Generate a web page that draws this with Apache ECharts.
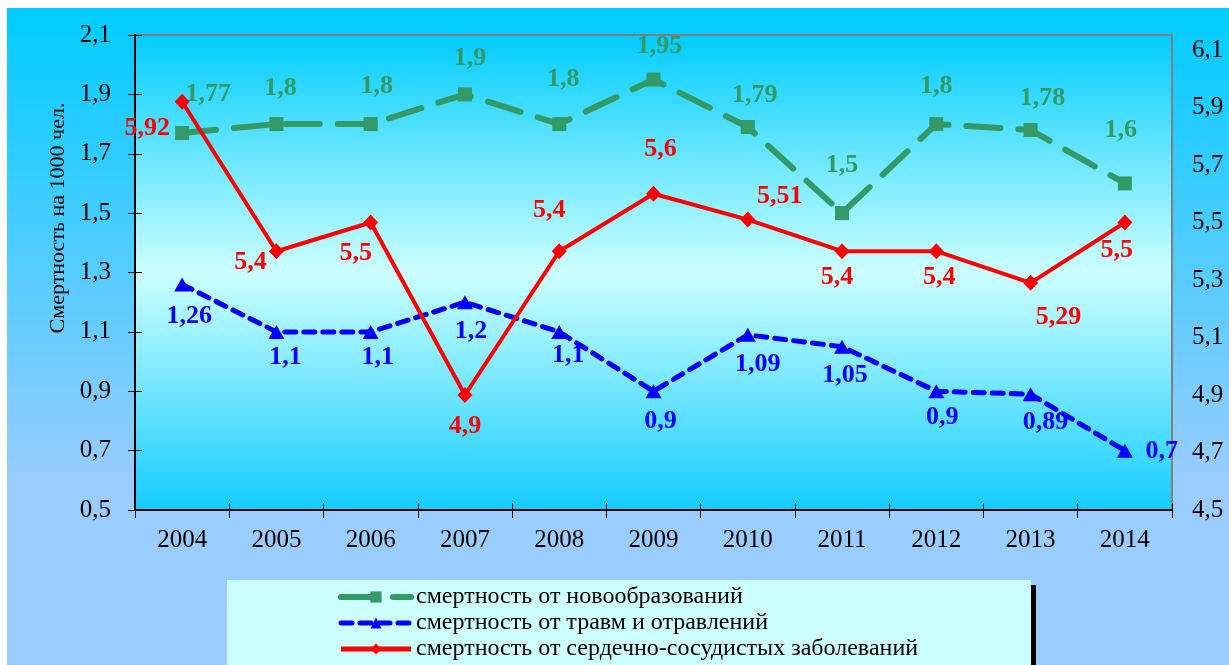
<!DOCTYPE html>
<html>
<head>
<meta charset="utf-8">
<script src="https://cdn.jsdelivr.net/npm/echarts@6/dist/echarts.min.js"></script>
<style>
    html, body { margin: 0; padding: 0; background: #ffffff; }
    #bg { position: absolute; left: 7px; top: 8px; width: 1222px; height: 657px;
          background: linear-gradient(to bottom, #00ccff 0%, #99ccff 72%, #99ccff 100%); }
    #main { position: absolute; left: 0; top: 0; width: 1229px; height: 665px; }
</style>
</head>
<body>
<div id="bg"></div>
<div id="main"></div>
<script>
// данные
const years = ['2004', '2005', '2006', '2007', '2008', '2009', '2010', '2011', '2012', '2013', '2014'];
const neoplasms = [1.77, 1.8, 1.8, 1.9, 1.8, 1.95, 1.79, 1.5, 1.8, 1.78, 1.6];
const injuries = [1.26, 1.1, 1.1, 1.2, 1.1, 0.9, 1.09, 1.05, 0.9, 0.89, 0.7];
const cardio = [5.92, 5.4, 5.5, 4.9, 5.4, 5.6, 5.51, 5.4, 5.4, 5.29, 5.5];
const seriesNames = [
    'смертность от новообразований',
    'смертность от травм и отравлений',
    'смертность от сердечно-сосудистых заболеваний'
];
const yName = 'Смертность на 1000 чел.';

// смещения подписей относительно точек
const greenOff = [[26,-39],[4,-36],[6,-38],[5,-36],[4,-45],[6,-33],[7,-32],[0,-48],[0,-38],[12,-32],[-4,-53]];
const blueOff = [[7,32],[9,25],[7,25],[6,29],[9,23],[7,30],[10,29],[3,29],[6,26],[15,28],[37,1]];
const redOff = [[-35,27],[-26,11],[-15,31],[0,31],[-10,-41],[7,-44],[32,-23],[-5,26],[3,26],[28,34],[-8,28]];

const serif = '"Liberation Serif", "Times New Roman", serif';
const fmt = v => String(Math.round(v * 100) / 100).replace('.', ',');

const withLabels = (values, offsets, color) => values.map((v, i) => ({
    value: v,
    label: {
        show: true,
        position: 'inside',
        offset: offsets[i],
        formatter: fmt(v),
        color: color,
        fontFamily: serif,
        fontWeight: 'bold',
        fontSize: 26
    }
}));

const chart = echarts.init(document.getElementById('main'));

const option = {
    backgroundColor: 'transparent',
    animation: false,
    textStyle: { fontFamily: serif },
    grid: {
        left: 135, right: 57, top: 35, bottom: 155,
        show: true,
        borderColor: '#808080',
        borderWidth: 2,
        backgroundColor: {
            type: 'linear', x: 0, y: 0, x2: 0, y2: 1,
            colorStops: [
                { offset: 0, color: '#00ccff' },
                { offset: 0.5, color: '#ccffff' },
                { offset: 1, color: '#14ccff' }
            ]
        }
    },
    legend: {
        orient: 'vertical',
        left: 338,
        top: 585,
        height: 120,
        itemWidth: 70,
        itemHeight: 14,
        itemGap: 2,
        padding: 0,
        z: 10,
        data: [
            { name: seriesNames[0], lineStyle: { width: 6 } },
            { name: seriesNames[1], lineStyle: { width: 5 } },
            { name: seriesNames[2], lineStyle: { width: 5 } }
        ],
        textStyle: { fontFamily: serif, fontSize: 24, color: '#000', lineHeight: 24 }
    },
    graphic: [
        { type: 'rect', z: 1, shape: { x: 232, y: 585, width: 804, height: 90 }, style: { fill: '#000000' } },
        { type: 'rect', z: 1, shape: { x: 227, y: 580, width: 804, height: 90 }, style: { fill: '#ccffff' } },
        {
            type: 'text', z: 5, x: 58, y: 218, rotation: Math.PI / 2,
            style: { text: yName, fontFamily: serif, fontSize: 22, fill: '#000', align: 'center', verticalAlign: 'middle' }
        }
    ],
    xAxis: [
        {
            type: 'category',
            position: 'bottom',
            data: years,
            boundaryGap: true,
            axisLine: { lineStyle: { color: '#000', width: 2 } },
            axisTick: { show: true, length: 8, lineStyle: { color: '#000' } },
            axisLabel: { color: '#000', fontSize: 25, margin: 18 },
            splitLine: { show: false }
        },
        {
            type: 'category',
            position: 'bottom',
            data: years,
            boundaryGap: true,
            axisLine: { show: false },
            axisTick: { show: true, inside: true, length: 7, lineStyle: { color: '#000' } },
            axisLabel: { show: false },
            splitLine: { show: false }
        }
    ],
    yAxis: [
        {
            type: 'value',
            position: 'left',
            min: 0.5, max: 2.1, interval: 0.2,
            axisLine: { show: true, lineStyle: { color: '#000', width: 2 } },
            axisTick: { show: true, length: 7, lineStyle: { color: '#000' } },
            axisLabel: { color: '#000', fontSize: 25, margin: 24, formatter: v => v.toFixed(1).replace('.', ',') },
            splitLine: { show: false }
        },
        {
            type: 'value',
            position: 'right',
            min: 4.5, max: 6.152, interval: 0.2,
            axisLine: { show: false },
            axisTick: { show: false },
            axisLabel: { color: '#000', fontSize: 25, margin: 20, showMaxLabel: false,
                formatter: v => v.toFixed(1).replace('.', ',') },
            splitLine: { show: false }
        },
        {
            type: 'value',
            position: 'left',
            min: 0.5, max: 2.1, interval: 0.2,
            axisLine: { show: false },
            axisTick: { show: true, inside: true, length: 7, lineStyle: { color: '#000' } },
            axisLabel: { show: false },
            splitLine: { show: false }
        }
    ],
    series: [
        {
            name: seriesNames[0],
            type: 'line',
            yAxisIndex: 0,
            data: withLabels(neoplasms, greenOff, '#339966'),
            symbol: 'rect',
            symbolSize: 14,
            itemStyle: { color: '#339966' },
            lineStyle: { color: '#339966', width: 6, type: [34, 18], cap: 'round' },
            z: 3
        },
        {
            name: seriesNames[1],
            type: 'line',
            yAxisIndex: 0,
            data: withLabels(injuries, blueOff, '#0000ff'),
            symbol: 'triangle',
            symbolSize: [16, 14],
            itemStyle: { color: '#0000ff' },
            lineStyle: { color: '#0000ff', width: 5, type: [11, 8], cap: 'round' },
            z: 3
        },
        {
            name: seriesNames[2],
            type: 'line',
            yAxisIndex: 1,
            data: withLabels(cardio, redOff, '#ff0000'),
            symbol: 'diamond',
            symbolSize: [15, 16],
            itemStyle: { color: '#ff0000' },
            lineStyle: { color: '#ff0000', width: 4 },
            z: 4
        }
    ]
};

chart.setOption(option);
</script>
</body>
</html>
